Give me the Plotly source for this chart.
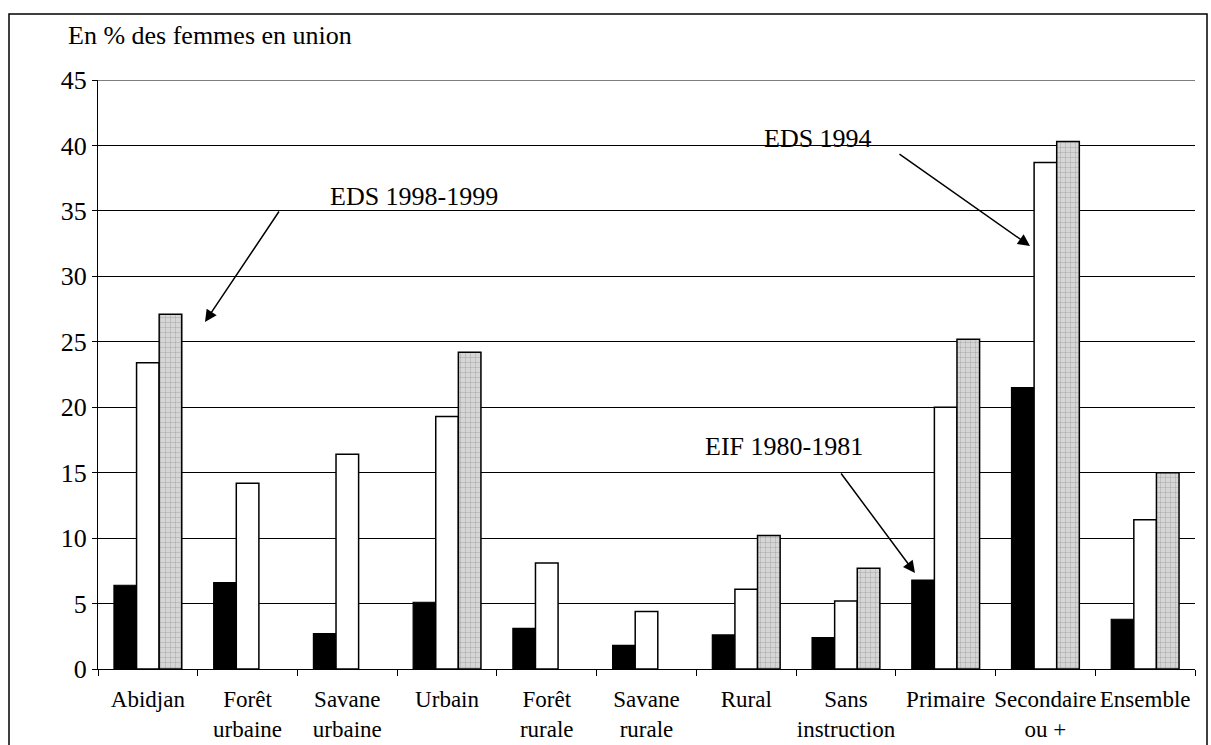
import plotly.graph_objects as go

categories = ["Abidjan", "Forêt<br>urbaine", "Savane<br>urbaine", "Urbain", "Forêt<br>rurale",
              "Savane<br>rurale", "Rural", "Sans<br>instruction", "Primaire", "Secondaire<br>ou +", "Ensemble"]
eif_1980 = [6.4, 6.6, 2.7, 5.1, 3.1, 1.8, 2.6, 2.4, 6.8, 21.5, 3.8]
eds_1994 = [23.4, 14.2, 16.4, 19.3, 8.1, 4.4, 6.1, 5.2, 20.0, 38.7, 11.4]
eds_1998 = [27.1, None, None, 24.2, None, None, 10.2, 7.7, 25.2, 40.3, 15.0]
y_ticks = [0, 5, 10, 15, 20, 25, 30, 35, 40, 45]

W, H = 1211, 745
L, R, T, B = 98, 16, 80, 76
pw, ph = W - L - R, H - T - B

def px(x):
    return (x - L) / pw

def py(y):
    return (H - B - y) / ph

fig = go.Figure()
fig.add_bar(x=categories, y=eif_1980, name="EIF 1980-1981",
            marker=dict(color="black", line=dict(color="black", width=1.2)))
fig.add_bar(x=categories, y=eds_1994, name="EDS 1994",
            marker=dict(color="white", line=dict(color="black", width=1.5)))
fig.add_bar(x=categories, y=eds_1998, name="EDS 1998-1999",
            marker=dict(color="#cfcfcf", line=dict(color="black", width=1.5),
                        pattern=dict(shape="+", fgcolor="#8a8a8a", bgcolor="#d6d6d6",
                                     size=5, solidity=0.12, fillmode="replace")))

font = "Times New Roman, Liberation Serif, DejaVu Serif, serif"
fig.update_layout(
    width=W, height=H,
    margin=dict(l=L, r=R, t=T, b=B, autoexpand=False),
    paper_bgcolor="white", plot_bgcolor="white",
    barmode="group", bargap=0.32, bargroupgap=0,
    showlegend=False,
    font=dict(family=font, color="black"),
    xaxis=dict(showgrid=False, showline=True, linecolor="black", linewidth=1,
               ticks="outside", tickson="boundaries", ticklen=6, tickcolor="black",
               tickfont=dict(size=23, family=font), tickangle=0, automargin=False,
               ticklabelstandoff=9),
    yaxis=dict(range=[0, 45], tickvals=y_ticks, showgrid=True, gridcolor="black", gridwidth=1,
               showline=True, linecolor="black", linewidth=1, ticks="outside", ticklen=5,
               tickcolor="black", tickfont=dict(size=26, family=font), zeroline=False,
               automargin=False),
)

# outer frame
fig.add_shape(type="rect", xref="paper", yref="paper",
              x0=px(9), x1=px(1207), y0=py(760), y1=py(14),
              line=dict(color="black", width=1.5), fillcolor="rgba(0,0,0,0)", layer="above")
# top grid line at 45
fig.add_shape(type="line", xref="paper", yref="y", x0=0, x1=1, y0=45, y1=45,
              line=dict(color="black", width=1))

fig.add_annotation(xref="paper", yref="paper", x=px(66), y=py(36), xanchor="left", yanchor="middle",
                   text="En % des femmes en union", showarrow=False, font=dict(size=26, family=font))

labels = [("EDS 1998-1999", 328, 180, 205, 322, 280, 210),
          ("EDS 1994", 818, 122, 1030, 246, 898, 153),
          ("EIF 1980-1981", 784, 446, 915, 573, 840, 472)]
for txt, tx, ty, hx, hy, sx, sy in labels:
    fig.add_annotation(xref="paper", yref="paper", x=px(tx), y=py(ty), text=txt, showarrow=False,
                       font=dict(size=26, family=font))
    fig.add_annotation(xref="paper", yref="paper", x=px(hx), y=py(hy), text="", showarrow=True,
                       axref="pixel", ayref="pixel", ax=sx - hx, ay=sy - hy,
                       arrowhead=2, arrowsize=1.6, arrowwidth=1.5, arrowcolor="black")

fig.write_html("out.html", config={"displayModeBar": False},
               post_script="document.body.style.margin='0px';document.body.style.overflow='hidden';")
